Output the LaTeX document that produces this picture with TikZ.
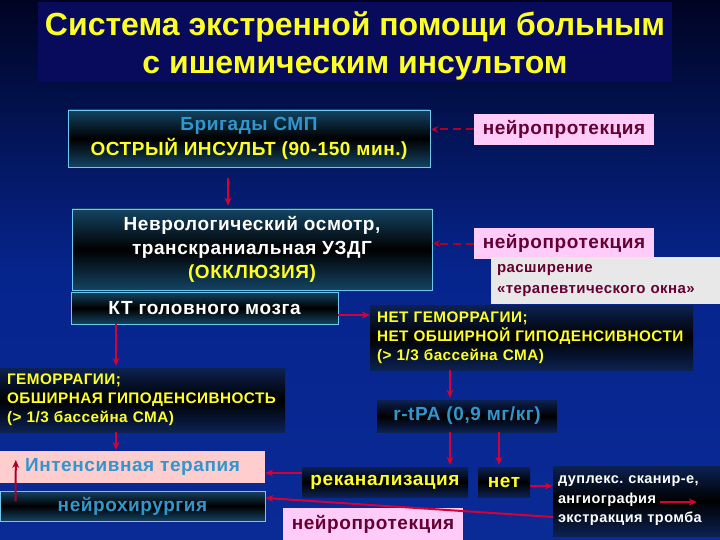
\documentclass[tikz,border=0pt]{standalone}
\usepackage{fontspec}
\setmainfont{Liberation Sans}[LetterSpace=3]
\newfontfamily\titlefont{Liberation Sans}
\usetikzlibrary{
  arrows.meta,
  calc,
  positioning
}

\definecolor{bgtop}{RGB}{0,4,35}
\definecolor{bgmid}{RGB}{6,36,140}
\definecolor{bgbot}{RGB}{10,42,150}
\definecolor{ttlnavy}{RGB}{8,10,92}
\definecolor{ttlyellow}{RGB}{255,255,40}
\definecolor{txtblue}{RGB}{50,150,205}
\definecolor{npmaroon}{RGB}{100,0,50}
\definecolor{nppink}{RGB}{255,204,250}
\definecolor{itpink}{RGB}{255,205,205}
\definecolor{wingray}{RGB}{232,232,232}
\definecolor{arrred}{RGB}{215,0,50}
\definecolor{frmcyan}{RGB}{110,200,240}
\definecolor{boxteal}{RGB}{20,68,100}
\definecolor{boxnavy}{RGB}{12,34,82}

\frenchspacing
\begin{document}
\begin{tikzpicture}[x=1pt,y=-1pt]
  \tikzset{
    txt/.style 2 args={font=\bfseries\fontsize{#1}{#2}\selectfont},
    framebox/.style={
      draw=frmcyan, line width=0.8pt, inner sep=0pt,
      top color=boxteal, bottom color=boxteal, middle color=black,
    },
    darkbox/.style={
      inner sep=0pt,
      top color=boxnavy, bottom color=boxnavy, middle color=black,
    },
    pinkbox/.style={fill=nppink, text=npmaroon, inner sep=0pt, txt={19}{22}},
    redarrow/.style={draw=arrred, line width=2pt, -{Stealth[length=8pt,width=7pt]}},
    dasharrow/.style={redarrow, draw=arrred!80!black, dash pattern=on 8pt off 5pt},
  }

  % background
  \useasboundingbox (0,0) rectangle (720,540);
  \shade[top color=bgtop, bottom color=bgbot, middle color=bgmid]
    (0,0) rectangle (720,540);

  % title
  \node[fill=ttlnavy, text=ttlyellow, minimum width=634pt, minimum height=80pt,
    inner sep=0pt, align=center, font=\titlefont\bfseries\fontsize{32}{38}\selectfont]
    (title) at (355,42)
    {\rule{0pt}{32pt}Система экстренной помощи больным\\с ишемическим инсультом};

  % left column
  \node[framebox, minimum width=362pt, minimum height=57pt, align=center,
    text=ttlyellow, txt={19}{25}] (brig) at (249,138.5)
    {{\color{txtblue}Бригады СМП}\\ОСТРЫЙ ИНСУЛЬТ (90-150 мин.)};
  \node[framebox, minimum width=360pt, minimum height=81pt, align=center,
    text=white, txt={19}{24}] (neuro) at (252,249.5)
    {Неврологический осмотр,\\транскраниальная УЗДГ\\{\color{ttlyellow}(ОККЛЮЗИЯ)}};
  \node[framebox, minimum width=267pt, minimum height=32pt,
    text=white, txt={19}{20}] (kt) at (204.5,308) {КТ головного мозга};
  \node[darkbox, minimum width=285pt, minimum height=64pt, align=left,
    text width=271pt, text=ttlyellow, txt={15.3}{19}] (hem) at (142.5,400)
    {ГЕМОРРАГИИ;\\ОБШИРНАЯ ГИПОДЕНСИВНОСТЬ\\(> 1/3 бассейна СМА)};
  \node[fill=itpink, inner sep=0pt, minimum width=265pt, minimum height=32pt,
    text=txtblue, txt={19}{20}] (intens) at (132.5,467) {Интенсивная терапия};
  \node[framebox, minimum width=265pt, minimum height=30pt,
    text=txtblue, txt={19}{20}] (nsurg) at (132.5,506) {нейрохирургия};

  % right column
  \node[pinkbox, minimum width=180pt, minimum height=31pt] (npa) at (564,129.5)
    {нейропротекция};
  \node[pinkbox, minimum width=180pt, minimum height=31pt] (npb) at (564,243.5)
    {нейропротекция};
  \node[fill=wingray, inner sep=0pt, minimum width=229pt, minimum height=47pt,
    align=left, text width=217pt, text=npmaroon, txt={15}{21}] (window) at (605.5,280.5)
    {расширение\\«терапевтического окна»};
  \node[darkbox, minimum width=323pt, minimum height=65pt, align=left,
    text width=309pt, text=ttlyellow, txt={15.3}{19}] (nohem) at (531.5,337.5)
    {НЕТ ГЕМОРРАГИИ;\\НЕТ ОБШИРНОЙ ГИПОДЕНСИВНОСТИ\\(> 1/3 бассейна СМА)};
  \node[darkbox, minimum width=180pt, minimum height=32pt,
    text=txtblue, txt={19}{20}] (tpa) at (467,416) {r-tPA (0,9 мг/кг)};
  \node[darkbox, minimum width=166pt, minimum height=30pt,
    text=ttlyellow, txt={19}{20}] (recan) at (385,482) {реканализация};
  \node[darkbox, minimum width=52pt, minimum height=30pt,
    text=ttlyellow, txt={19}{20}] (net) at (504,482) {нет};
  \node[darkbox, minimum width=167pt, minimum height=70pt, align=left,
    text width=157pt, text=white, txt={14.5}{19.5}] (duplex) at (636.5,501)
    {дуплекс. сканир-е,\\ангиография\\экстракция тромба};
  \node[pinkbox, minimum width=180pt, minimum height=32pt] (npc) at (373,524)
    {нейропротекция};

  % vertical guide lines for the arrows
  \coordinate (mx) at (228,0);
  \coordinate (lx) at (116,0);
  \coordinate (ax) at (450,0);
  \coordinate (bx) at (499,0);

  % arrows
  \draw[redarrow, shorten <=11pt, shorten >=3pt]
    (brig.south -| mx) -- (neuro.north -| mx);
  \draw[dasharrow] (npa.west) -- (npa.west -| brig.east);
  \draw[dasharrow] (npb.west) -- (npb.west -| neuro.east);
  \draw[redarrow] ([yshift=-7pt]kt.east) -- ([yshift=-7pt]kt.east -| nohem.west);
  \draw[redarrow, shorten >=2pt] (kt.south -| lx) -- (hem.north -| lx);
  \draw[redarrow, shorten >=1pt] (hem.south -| lx) -- (intens.north -| lx);
  \draw[redarrow, draw=arrred!80!black]
    ([xshift=16pt,yshift=5pt]nsurg.west) -- ([xshift=16pt,yshift=7pt]intens.west);
  \draw[redarrow, shorten >=2pt] (nohem.south -| ax) -- (tpa.north -| ax);
  \draw[redarrow, shorten >=2pt] (tpa.south -| ax) -- (recan.north -| ax);
  \draw[redarrow, shorten >=2pt] (tpa.south -| bx) -- (net.north -| bx);
  \draw[redarrow] ([yshift=9pt]recan.west) -- ([yshift=9pt]recan.west -| intens.east);
  \draw[redarrow] ([yshift=-16pt]duplex.west) -- ([yshift=8pt]nsurg.east);
  \draw[redarrow] ([yshift=-4pt]net.east) -- ([yshift=-4pt]net.east -| duplex.west);
  \draw[redarrow] ([xshift=107pt,yshift=-1pt]duplex.west) -- ++(37,0);
\end{tikzpicture}
\end{document}
